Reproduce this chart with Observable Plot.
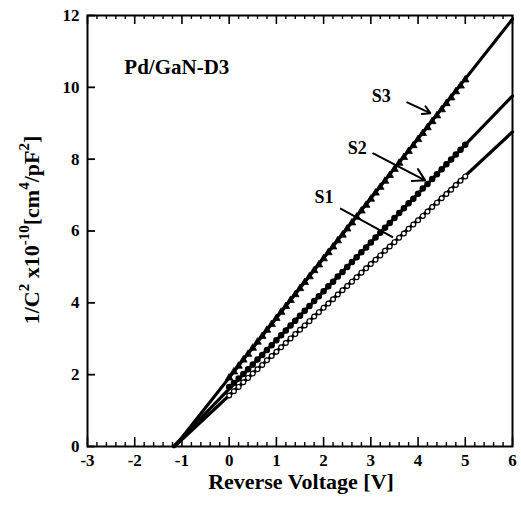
<!DOCTYPE html>
<html><head><meta charset="utf-8">
<script src="https://cdn.jsdelivr.net/npm/d3@7"></script>
<script src="https://cdn.jsdelivr.net/npm/@observablehq/plot@0.6"></script>
<style>body{margin:0;background:#fff} svg{display:block}</style>
</head><body><div id="chart"></div>
<script>
// Reverse voltage (V) of measured points
const voltage = [0.0,0.1,0.2,0.3,0.4,0.5,0.6,0.7,0.8,0.9,1.0,1.1,1.2,1.3,1.4,1.5,1.6,1.7,1.8,1.9,2.0,2.1,2.2,2.3,2.4,2.5,2.6,2.7,2.8,2.9,3.0,3.1,3.2,3.3,3.4,3.5,3.6,3.7,3.8,3.9,4.0,4.1,4.2,4.3,4.4,4.5,4.6,4.7,4.8,4.9,5.0];
// 1/C^2 x1e-10 for each sample
const s1 = [1.42,1.54,1.66,1.79,1.91,2.03,2.15,2.27,2.40,2.52,2.64,2.76,2.88,3.01,3.13,3.25,3.37,3.49,3.62,3.74,3.86,3.98,4.10,4.23,4.35,4.47,4.59,4.71,4.84,4.96,5.08,5.20,5.32,5.45,5.57,5.69,5.81,5.93,6.06,6.18,6.30,6.42,6.54,6.67,6.79,6.91,7.03,7.15,7.28,7.40,7.52];
const s2 = [1.66,1.77,1.89,2.02,2.15,2.28,2.42,2.55,2.69,2.82,2.96,3.10,3.23,3.37,3.50,3.64,3.78,3.91,4.05,4.18,4.32,4.46,4.59,4.73,4.86,5.00,5.14,5.27,5.41,5.54,5.68,5.82,5.95,6.09,6.22,6.36,6.50,6.63,6.77,6.90,7.04,7.18,7.31,7.45,7.58,7.72,7.86,7.99,8.13,8.26,8.40];
const s3 = [1.91,2.08,2.24,2.41,2.57,2.74,2.91,3.07,3.24,3.40,3.57,3.74,3.90,4.07,4.23,4.40,4.57,4.73,4.90,5.06,5.23,5.40,5.56,5.73,5.89,6.06,6.23,6.39,6.56,6.72,6.89,7.06,7.22,7.39,7.55,7.72,7.89,8.05,8.22,8.38,8.55,8.72,8.88,9.05,9.21,9.38,9.55,9.71,9.88,10.04,10.21];
// Linear fits (start and end points)
const fitX1 = [-1.16, 6], fitY1 = [0, 8.76];
const fitX2 = [-1.18, 6], fitY2 = [0, 9.76];
const fitX3 = [-1.15, 6], fitY3 = [0, 11.9];
// Annotations
const labelText = ["S1", "S2", "S3"];
const labelX = [2.01, 2.71, 3.22];
const labelY = [6.94, 8.30, 9.75];
const pointerX1 = [2.35, 3.05, 3.77], pointerY1 = [6.63, 8.16, 9.58];
const pointerX2 = [3.47, 4.15, 4.26], pointerY2 = [5.82, 7.41, 9.28];
const pointerHead = [false, true, true];
const sampleTitle = "Pd/GaN-D3";
const titleX = -2.22, titleY = 10.56;
const xTitle = "Reverse Voltage [V]";
// Ticks
const xMajor = [-3,-2,-1,0,1,2,3,4,5,6];
const xMinor = [-2.8,-2.6,-2.4,-2.2,-1.8,-1.6,-1.4,-1.2,-0.8,-0.6,-0.4,-0.2,0.2,0.4,0.6,0.8,1.2,1.4,1.6,1.8,2.2,2.4,2.6,2.8,3.2,3.4,3.6,3.8,4.2,4.4,4.6,4.8,5.2,5.4,5.6,5.8];
const yMajor = [0,2,4,6,8,10,12];

const pts = (ys) => voltage.map((v, i) => ({v, y: ys[i]}));
const fit = (xs, ys) => xs.map((x, i) => ({v: x, y: ys[i]}));
const notes = labelText.map((t, i) => ({t, x: labelX[i], y: labelY[i], x1: pointerX1[i], y1: pointerY1[i], x2: pointerX2[i], y2: pointerY2[i], head: pointerHead[i]}));

const font = "'Liberation Serif', 'Times New Roman', serif";
const W = 521, H = 506;
const plot = Plot.plot({
  width: W, height: H,
  marginLeft: 87, marginRight: 9, marginTop: 15, marginBottom: 60,
  style: {fontFamily: font, fontWeight: "bold", background: "#fff"},
  x: {domain: [-3, 6]},
  y: {domain: [0, 12]},
  marks: [
    Plot.axisX(xMajor, {tickSize: 0, tickPadding: 7, fontSize: 17, fontWeight: "bold", tickFormat: d => d < 0 ? "-" + Math.abs(d) : String(d), label: null}),
    Plot.axisY(yMajor, {tickSize: 0, tickPadding: 8, fontSize: 17, fontWeight: "bold", label: null}),
    Plot.ruleX(xMajor, {x: d => d, y1: 0, y2: 0.25, strokeWidth: 1.6}),
    Plot.ruleX(xMinor, {x: d => d, y1: 0, y2: 0.11, strokeWidth: 1.4}),
    Plot.ruleX(xMajor, {x: d => d, y1: 12, y2: 11.75, strokeWidth: 1.6}),
    Plot.ruleX(xMinor, {x: d => d, y1: 12, y2: 11.89, strokeWidth: 1.4}),
    Plot.ruleY(yMajor, {y: d => d, x1: -3, x2: -2.83, strokeWidth: 1.8}),
    Plot.line(fit(fitX1, fitY1), {x: "v", y: "y", stroke: "black", strokeWidth: 3.2}),
    Plot.line(fit(fitX2, fitY2), {x: "v", y: "y", stroke: "black", strokeWidth: 3.2}),
    Plot.line(fit(fitX3, fitY3), {x: "v", y: "y", stroke: "black", strokeWidth: 3.2}),
    Plot.dot(pts(s1), {x: "v", y: "y", r: 2.4, stroke: "black", strokeWidth: 1.2, fill: "white"}),
    Plot.dot(pts(s2), {x: "v", y: "y", r: 2.5, fill: "black", stroke: "black"}),
    Plot.dot(pts(s3), {x: "v", y: "y", r: 2.8, symbol: "triangle", fill: "black", stroke: "black", strokeWidth: 0.8}),
    Plot.link(notes.filter(d => !d.head), {x1: "x1", y1: "y1", x2: "x2", y2: "y2", stroke: "black", strokeWidth: 2}),
    Plot.arrow(notes.filter(d => d.head), {x1: "x1", y1: "y1", x2: "x2", y2: "y2", stroke: "black", strokeWidth: 2, headLength: 10}),
    Plot.text(notes, {x: "x", y: "y", text: "t", fontSize: 18, fontWeight: "bold", fill: "black"}),
    Plot.text([sampleTitle], {x: titleX, y: titleY, text: d => d, textAnchor: "start", fontSize: 21, fontWeight: "bold", fill: "black"}),
    Plot.frame({stroke: "black", strokeWidth: 2})
  ]
});
const svg = d3.select(plot);
svg.selectAll("text").attr("font-family", font);
svg.append("text")
  .attr("x", 301).attr("y", 489)
  .attr("text-anchor", "middle")
  .attr("font-family", font).attr("font-weight", "bold").attr("font-size", 22).attr("fill", "black")
  .text(xTitle);
const yl = svg.append("text")
  .attr("transform", "translate(34,230) rotate(-90)")
  .attr("text-anchor", "middle")
  .attr("dominant-baseline", "middle")
  .attr("font-family", font).attr("font-weight", "bold").attr("font-size", 22).attr("fill", "black");
const parts = [["1/C",0],["2",1],[" x10",0],["-10",1],["[cm",0],["4",1],["/pF",0],["2",1],["]",0]];
let prev = 0;
for (const [t, sup] of parts) {
  const dy = sup ? -8 : 0;
  yl.append("tspan").attr("dy", dy - prev).attr("font-size", sup ? 15 : 22).text(t);
  prev = dy;
}
document.getElementById("chart").append(plot);
</script>
</body></html>
